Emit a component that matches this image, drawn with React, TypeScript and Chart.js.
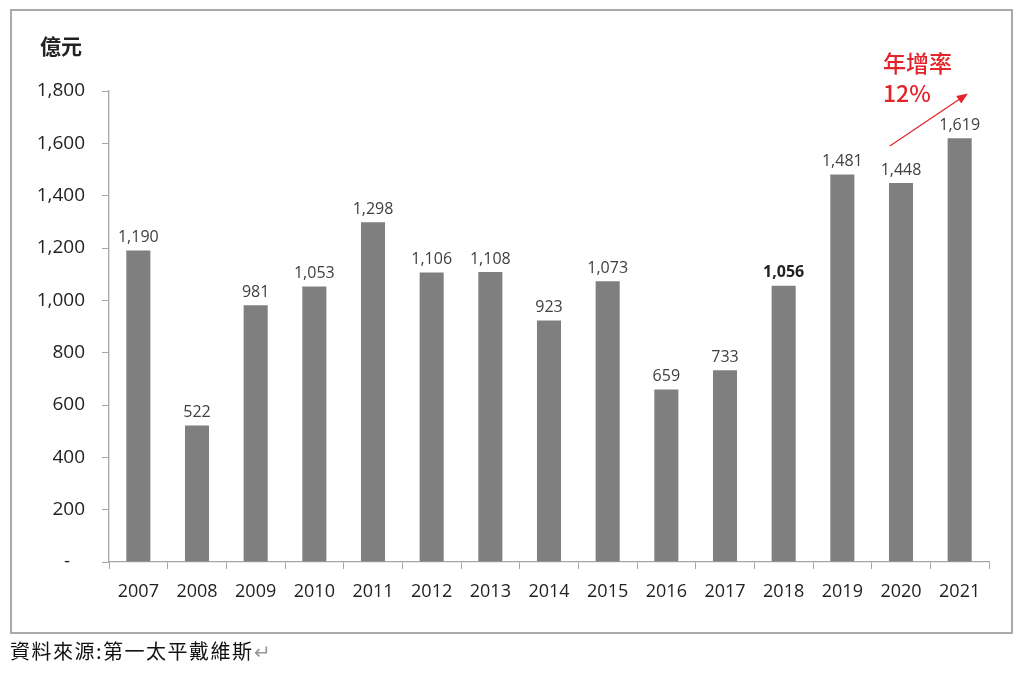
import { useEffect, useRef } from "react";
import { Chart, registerables, Plugin } from "chart.js";

Chart.register(...registerables);

// Investment amount per year (億元)
const years = ["2007", "2008", "2009", "2010", "2011", "2012", "2013", "2014", "2015", "2016", "2017", "2018", "2019", "2020", "2021"];
const amounts = [1190, 522, 981, 1053, 1298, 1106, 1108, 923, 1073, 659, 733, 1056, 1481, 1448, 1619];
const boldLabelYears = ["2018"];

// Growth arrow, in category index / value units
const arrowFrom = { index: 12.81, value: 1590 };
const arrowTo = { index: 14.14, value: 1790 };

const RED = "#e3242b";
const FONT = "'Open Sans', 'Noto Sans', sans-serif";
const CJK = "'Noto Sans CJK TC', sans-serif";

const labelsPlugin: Plugin<"bar"> = {
  id: "valueLabels",
  afterDatasetsDraw(chart) {
    const ctx = chart.ctx;
    const meta = chart.getDatasetMeta(0);
    ctx.save();
    ctx.textAlign = "center";
    ctx.textBaseline = "bottom";
    meta.data.forEach((bar: any, i) => {
      const bold = boldLabelYears.includes(years[i]);
      ctx.font = `${bold ? "bold " : ""}16px ${FONT}`;
      ctx.fillStyle = bold ? "#222" : "#404040";
      ctx.fillText(amounts[i].toLocaleString("en-US"), bar.x, bar.y - 5);
    });
    ctx.restore();
  },
};

const arrowPlugin: Plugin<"bar"> = {
  id: "growthArrow",
  afterDraw(chart) {
    const xs = chart.scales.x;
    const ys = chart.scales.y;
    const x1 = xs.getPixelForValue(arrowFrom.index);
    const y1 = ys.getPixelForValue(arrowFrom.value);
    const x2 = xs.getPixelForValue(arrowTo.index);
    const y2 = ys.getPixelForValue(arrowTo.value);
    const ang = Math.atan2(y2 - y1, x2 - x1);
    const ctx = chart.ctx;
    ctx.save();
    ctx.strokeStyle = RED;
    ctx.fillStyle = RED;
    ctx.lineWidth = 1.3;
    ctx.beginPath();
    ctx.moveTo(x1, y1);
    ctx.lineTo(x2 - Math.cos(ang) * 8, y2 - Math.sin(ang) * 8);
    ctx.stroke();
    const len = 11;
    const half = 4.5;
    ctx.beginPath();
    ctx.moveTo(x2, y2);
    ctx.lineTo(x2 - len * Math.cos(ang) + half * Math.sin(ang), y2 - len * Math.sin(ang) - half * Math.cos(ang));
    ctx.lineTo(x2 - len * Math.cos(ang) - half * Math.sin(ang), y2 - len * Math.sin(ang) + half * Math.cos(ang));
    ctx.closePath();
    ctx.fill();
    ctx.restore();
  },
};

function InvestmentChart() {
  const canvasRef = useRef<HTMLCanvasElement>(null);
  const chartRef = useRef<Chart | null>(null);

  useEffect(() => {
    if (!canvasRef.current) return;
    if (chartRef.current) chartRef.current.destroy();

    chartRef.current = new Chart(canvasRef.current, {
      type: "bar",
      data: {
        labels: years,
        datasets: [
          {
            data: amounts,
            backgroundColor: "#7f7f7f",
            barPercentage: 0.41,
            categoryPercentage: 1,
          },
        ],
      },
      options: {
        responsive: false,
        animation: false,
        layout: { padding: { top: 91, right: 35, left: 0, bottom: 0 } },
        plugins: {
          legend: { display: false },
          tooltip: { enabled: false },
        },
        scales: {
          x: {
            afterFit: (scale) => {
              scale.height = 112;
            },
            grid: {
              drawOnChartArea: false,
              drawTicks: true,
              tickLength: 7,
              color: "#a6a6a6",
              offset: true,
            },
            border: { color: "#a6a6a6", width: 1.3 },
            ticks: {
              color: "#222",
              font: { family: FONT, size: 18 },
              padding: 12,
            },
          },
          y: {
            min: 0,
            max: 1800,
            afterFit: (scale) => {
              scale.width = 109;
            },
            grid: {
              drawOnChartArea: false,
              drawTicks: true,
              tickLength: 7,
              color: "#a6a6a6",
            },
            border: { color: "#a6a6a6", width: 1.3 },
            ticks: {
              stepSize: 200,
              color: "#222",
              font: { family: FONT, size: 19 },
              padding: 17,
              callback: (v) => (Number(v) === 0 ? "-   " : Number(v).toLocaleString("en-US")),
            },
          },
        },
      },
      plugins: [labelsPlugin, arrowPlugin],
    });

    return () => {
      if (chartRef.current) {
        chartRef.current.destroy();
        chartRef.current = null;
      }
    };
  }, []);

  return <canvas ref={canvasRef} width={1024} height={674} style={{ position: "absolute", left: 0, top: 0 }} />;
}

export default function App() {
  return (
    <div style={{ position: "fixed", left: 0, top: 0, width: 1024, height: 674, background: "#fff", overflow: "hidden" }}>
      <div
        style={{
          position: "absolute",
          left: 10,
          top: 9,
          width: 999,
          height: 621,
          border: "2px solid #aaaaaa",
        }}
      />
      <InvestmentChart />
      <div style={{ position: "absolute", left: 40, top: 33, font: `bold 21px ${CJK}`, color: "#222", lineHeight: 1.2 }}>億元</div>
      <div style={{ position: "absolute", left: 883, top: 48, font: `500 23px ${CJK}`, color: RED, lineHeight: 1.3 }}>
        年增率
        <br />
        12%
      </div>
      <div style={{ position: "absolute", left: 10, top: 639, font: `20px ${CJK}`, letterSpacing: 1.5, color: "#111", lineHeight: 1.2 }}>
        資料來源:第一太平戴維斯<span style={{ color: "#999" }}>↵</span>
      </div>
    </div>
  );
}
